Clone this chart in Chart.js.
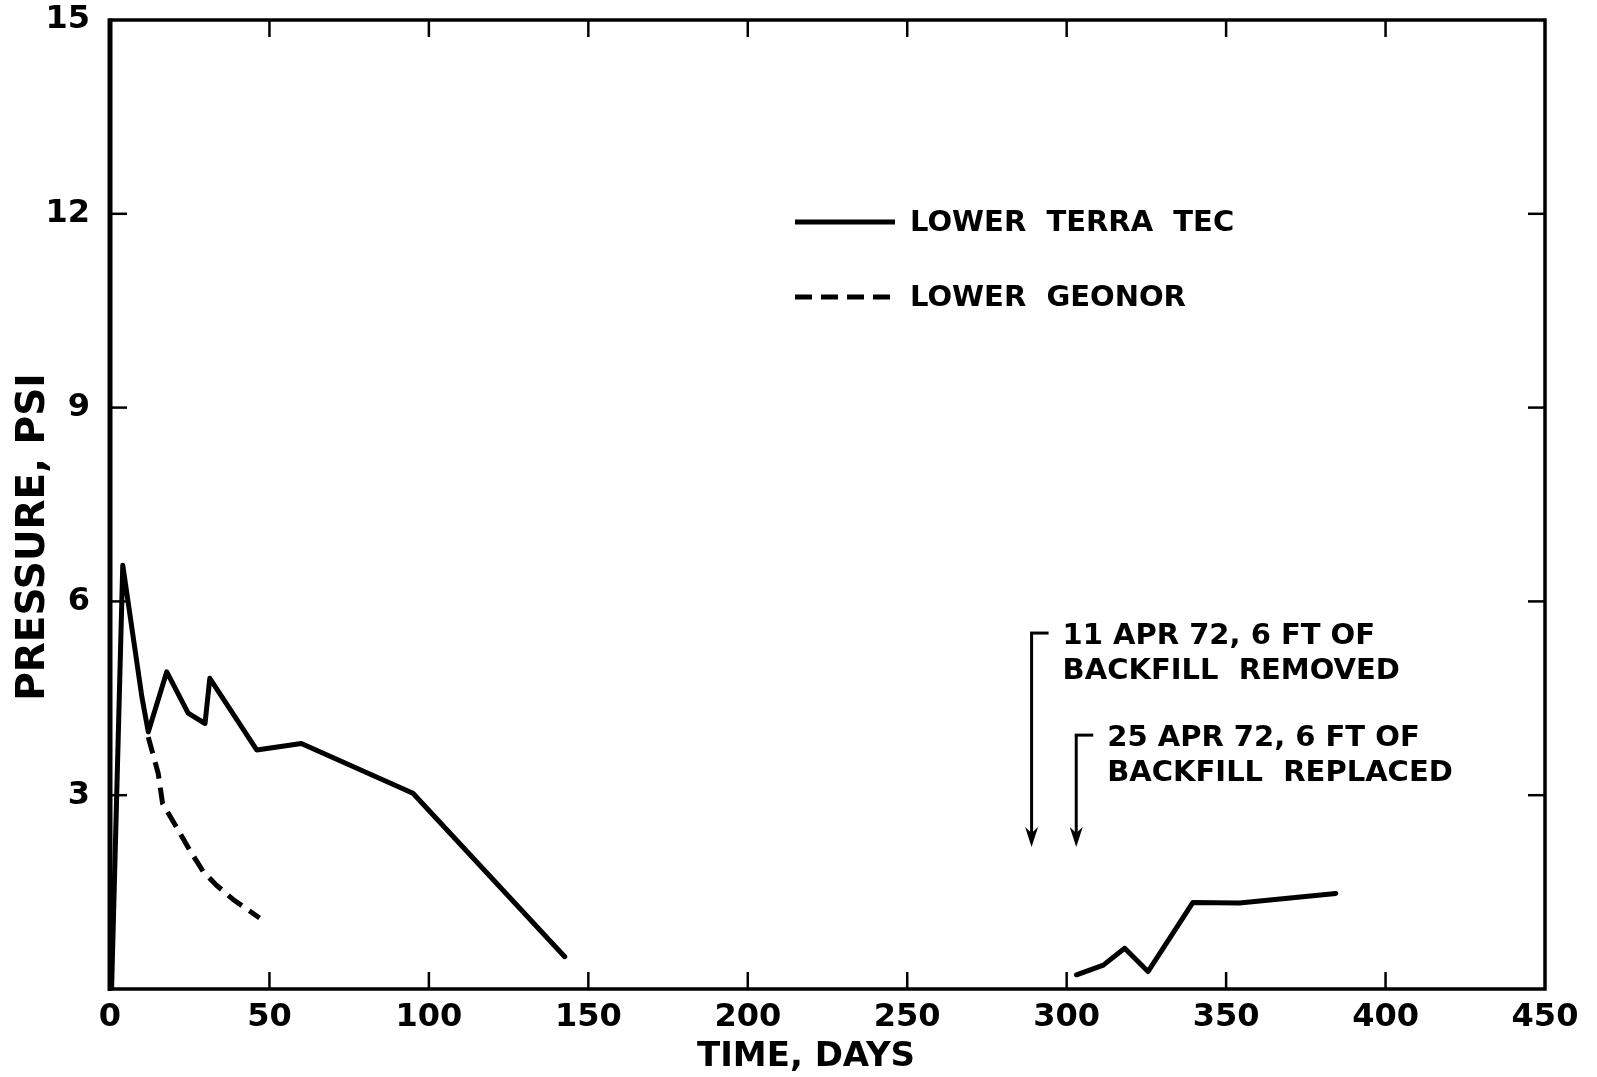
<!DOCTYPE html>
<html><head><meta charset="utf-8">
<script src="https://cdn.jsdelivr.net/npm/chart.js@4.4.1/dist/chart.umd.min.js"></script>
<style>html,body{margin:0;padding:0;background:#fff}#wrap{width:1597px;height:1077px;position:relative}</style>
</head><body><div id="wrap"><canvas id="c" width="1597" height="1077"></canvas></div>
<script>
// ---- data ----
const terraDays     = [0.5, 4.0, 10.0, 12.0, 17.8, 24.5, 29.8, 31.3, 46.0, 60.0, 95.0, 142.6, 220, 303.1, 311.5, 318.2, 325.5, 339.6, 354.2, 384.4];
const terraPressure = [0.0, 6.56, 4.52, 3.98, 4.91, 4.27, 4.11, 4.81, 3.70, 3.80, 3.03, 0.50, null, 0.22, 0.37, 0.63, 0.27, 1.34, 1.33, 1.48];
const geonorDays     = [12.0, 15.1, 16.5, 20.8, 25.0, 29.2, 33.3, 38.5, 46.9];
const geonorPressure = [3.90, 3.34, 2.87, 2.51, 2.15, 1.82, 1.61, 1.39, 1.10];
const xTickValues = [0, 50, 100, 150, 200, 250, 300, 350, 400, 450];
const yTickValues = [0, 3, 6, 9, 12, 15];
const seriesLabels = ['LOWER  TERRA  TEC', 'LOWER  GEONOR'];
const xTitle = 'TIME, DAYS';
const yTitle = 'PRESSURE, PSI';
const noteDays = [289, 303];
const noteTopPressure = [5.51, 3.93];
const noteTipPressure = [2.2, 2.2];
const noteLines = [['11 APR 72, 6 FT OF', 'BACKFILL  REMOVED'], ['25 APR 72, 6 FT OF', 'BACKFILL  REPLACED']];

const FONT = 'DejaVu Sans';
const toPts = (xs, ys) => xs.map((d, i) => ({x: d, y: ys[i]}));

const decor = {
  id: 'decor',
  afterDatasetsDraw(chart) {
    const {ctx, chartArea: a, scales: {x, y}} = chart;
    ctx.save();
    ctx.strokeStyle = '#000';
    ctx.fillStyle = '#000';
    ctx.lineCap = 'butt';
    const line = (x1, y1, x2, y2) => { ctx.beginPath(); ctx.moveTo(x1, y1); ctx.lineTo(x2, y2); ctx.stroke(); };
    // frame
    ctx.lineWidth = 3.5;
    ctx.strokeRect(a.left, a.top, a.right - a.left, a.bottom - a.top);
    ctx.lineWidth = 5;
    line(a.left, a.top - 1.5, a.left, a.bottom + 2);
    // inward ticks
    ctx.lineWidth = 2.5;
    xTickValues.forEach(v => {
      if (v <= x.min || v >= x.max) return;
      const px = x.getPixelForValue(v);
      line(px, a.bottom, px, a.bottom - 17);
      line(px, a.top, px, a.top + 17);
    });
    yTickValues.forEach(v => {
      if (v <= y.min || v >= y.max) return;
      const py = y.getPixelForValue(v);
      line(a.left, py, a.left + 17, py);
      line(a.right, py, a.right - 17, py);
    });
    // axis titles
    ctx.textAlign = 'center';
    ctx.textBaseline = 'middle';
    ctx.font = 'bold 34px "' + FONT + '"';
    ctx.fillText(xTitle, 806, 1057);
    ctx.save();
    ctx.translate(34, 537);
    ctx.rotate(-Math.PI / 2);
    ctx.font = 'bold 39px "' + FONT + '"';
    ctx.fillText(yTitle, 0, 0);
    ctx.restore();
    // legend
    const ds = chart.data.datasets;
    ctx.font = 'bold 29px "' + FONT + '"';
    ctx.textAlign = 'left';
    const lx0 = 795, lx1 = 895, ly = [222, 297];
    ds.forEach((d, i) => {
      ctx.lineWidth = 5;
      ctx.setLineDash(d.borderDash || []);
      line(lx0, ly[i], lx1, ly[i]);
      ctx.setLineDash([]);
      ctx.fillText(d.label, 910, ly[i] + 1);
    });
    // annotations with arrows
    noteDays.forEach((d, i) => {
      const px = x.getPixelForValue(d);
      const pTop = y.getPixelForValue(noteTopPressure[i]);
      const pTip = y.getPixelForValue(noteTipPressure[i]);
      ctx.lineWidth = 3;
      line(px, pTop, px, pTip - 10);
      line(px - 1.5, pTop, px + 17, pTop);
      ctx.beginPath();
      ctx.moveTo(px, pTip);
      ctx.lineTo(px - 6.5, pTip - 20);
      ctx.lineTo(px, pTip - 14);
      ctx.lineTo(px + 6.5, pTip - 20);
      ctx.closePath();
      ctx.fill();
      noteLines[i].forEach((t, k) => ctx.fillText(t, px + 31, pTop + 3 + k * 35));
    });
    ctx.restore();
  }
};

new Chart(document.getElementById('c'), {
  type: 'line',
  data: {
    datasets: [
      {label: seriesLabels[0], data: toPts(terraDays, terraPressure), borderColor: '#000', borderWidth: 5,
       pointRadius: 0, spanGaps: false, borderJoinStyle: 'round', borderCapStyle: 'round', tension: 0},
      {label: seriesLabels[1], data: toPts(geonorDays, geonorPressure), borderColor: '#000', borderWidth: 5,
       borderDash: [17, 9], pointRadius: 0, borderJoinStyle: 'round', tension: 0}
    ]
  },
  options: {
    responsive: false,
    animation: false,
    devicePixelRatio: 1,
    layout: {padding: {top: 20, right: 52, left: 0, bottom: 0}},
    plugins: {legend: {display: false}, tooltip: {enabled: false}},
    scales: {
      x: {
        type: 'linear', min: 0, max: 450,
        afterBuildTicks: s => { s.ticks = xTickValues.map(v => ({value: v})); },
        grid: {display: false, drawTicks: false}, border: {display: false},
        ticks: {color: '#000', font: {family: FONT, size: 32, weight: 'bold'}, padding: 9, maxRotation: 0, autoSkip: false},
        title: {display: false},
        afterFit: s => { s.height = 88; s.paddingLeft = 0; s.paddingRight = 0; s.paddingTop = 0; s.paddingBottom = 0; }
      },
      y: {
        type: 'linear', min: 0, max: 15,
        afterBuildTicks: s => { s.ticks = yTickValues.map(v => ({value: v})); },
        grid: {display: false, drawTicks: false}, border: {display: false},
        ticks: {color: '#000', font: {family: FONT, size: 32, weight: 'bold'}, padding: 20,
                callback: v => (v === 0 ? '' : String(v))},
        title: {display: false},
        afterFit: s => { s.width = 110; s.paddingTop = 0; s.paddingBottom = 0; s.paddingLeft = 0; s.paddingRight = 0; }
      }
    }
  },
  plugins: [decor]
});
</script></body></html>
